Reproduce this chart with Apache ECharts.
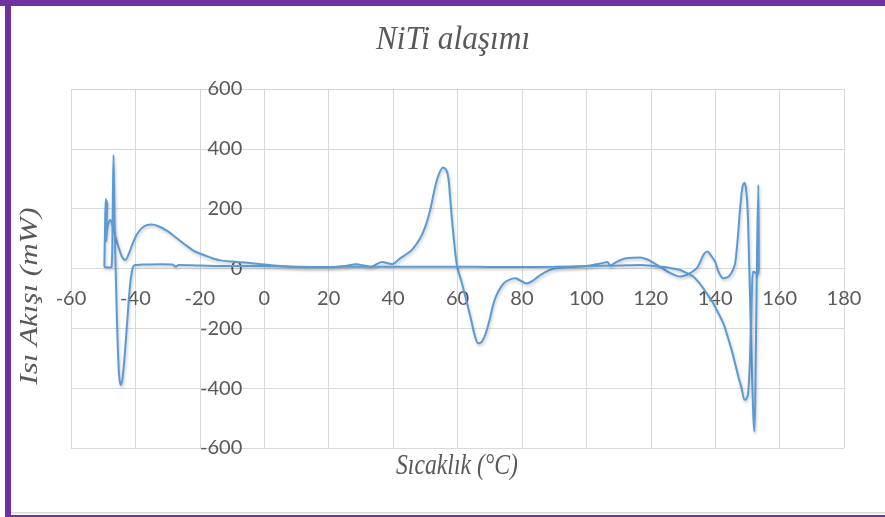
<!DOCTYPE html>
<html>
<head>
<meta charset="utf-8">
<script src="https://cdn.jsdelivr.net/npm/echarts@6/dist/echarts.min.js"></script>
<style>
  html, body { margin: 0; padding: 0; background: #ffffff; }
  #chart { width: 885px; height: 517px; }
</style>
</head>
<body>
<div id="chart"></div>
<script>
// Axis ticks
const xTicks = { min: -60, max: 180, step: 20 };
const yTicks = { min: -600, max: 600, step: 200 };

// Heating run: temperature (°C) and heat flow (mW)
const heatT = [-49.66, -49.45, -49.2, -48.95, -48.75, -48.9, -49.1, -48.7, -48.2, -47.8, -47.0, -46.2, -45.2, -44.2, -43.2, -42.2, -41.0, -39.5, -38.0, -36.5, -35.0, -33.0, -30.0, -27.0, -24.0, -22.0, -20.0, -17.0, -14.0, -10.0, -5.0, 0.0, 5.0, 10.0, 15.0, 20.0, 25.0, 28.5, 31.0, 33.0, 36.5, 39.6, 42.2, 45.8, 48.4, 50.0, 51.5, 53.0, 54.1, 55.5, 56.5, 57.2, 58.2, 59.8, 61.4, 64.0, 65.5, 66.5, 67.5, 68.6, 70.0, 71.2, 72.5, 74.3, 76.0, 77.9, 79.5, 81.5, 83.5, 85.7, 88.0, 90.0, 95.0, 100.0, 103.0, 105.0, 106.5, 107.5, 109.0, 111.0, 113.0, 116.7, 119.0, 121.0, 123.0, 125.5, 127.5, 129.1, 131.0, 133.0, 134.3, 135.5, 136.5, 137.6, 138.6, 140.0, 141.0, 142.5, 143.7, 144.6, 145.5, 146.2, 147.0, 147.7, 148.5, 149.1, 149.6, 150.1, 150.6, 151.2, 151.8, 152.2, 152.6, 153.0, 153.4, 153.55, 153.3];
const heatQ = [6, 120, 232, 225, 215, 160, 90, 135, 158, 162, 140, 105, 70, 40, 28, 45, 80, 115, 135, 145, 147, 142, 125, 100, 75, 60, 50, 38, 28, 23, 19, 13, 8, 5, 4, 4, 8, 14, 10, 6, 22, 15, 34, 62, 101, 140, 195, 270, 312, 338, 330, 300, 173, 12, -50, -161, -230, -250, -245, -222, -170, -116, -80, -50, -38, -33, -40, -50, -40, -22, -8, 0, 5, 8, 14, 18, 22, 10, 20, 30, 35, 37, 30, 18, 5, -12, -22, -27, -22, -10, 1, 25, 48, 57, 45, 22, -10, -33, -30, -22, -5, 17, 100, 195, 275, 287, 265, 190, 0, -250, -480, -545, -300, 50, 279, 0, -20];

// Cooling run: temperature (°C) and heat flow (mW)
const coolT = [153.3, 152.5, 151.8, 151.4, 150.8, 150.2, 149.6, 149.1, 148.2, 147.2, 146.2, 145.1, 143.8, 142.5, 141.0, 139.4, 137.8, 136.3, 134.8, 133.2, 131.2, 129.1, 126.0, 122.9, 119.0, 116.7, 110.0, 100.0, 90.0, 80.0, 70.0, 60.0, 50.0, 40.0, 30.0, 20.0, 10.0, 0.0, -10.0, -20.0, -26.5, -27.5, -28.5, -32.0, -38.0, -40.0, -40.6, -41.1, -41.7, -42.5, -43.4, -44.1, -44.6, -45.1, -45.6, -46.0, -46.4, -46.8, -47.1, -47.4, -48.2, -49.0, -49.66];
const coolQ = [-20, -15, -10, -83, -306, -420, -437, -439, -400, -362, -318, -272, -225, -183, -150, -116, -90, -66, -45, -27, -15, -5, 2, 6, 10, 12, 10, 8, 6, 5, 5, 6, 6, 6, 6, 5, 6, 8, 8, 10, 12, 6, 13, 14, 13, 12, 8, -10, -60, -170, -300, -375, -389, -350, -220, -60, 120, 379, 150, 5, 3, 4, 6];

const pairs = (xs, ys) => xs.map((x, i) => [x, ys[i]]);

const lineColor = '#5B9BD5';
const gridColor = '#D9D9D9';
const labelColor = '#595959';
const purple = '#7030A0';

// Plot rectangle
const W = 885, H = 517;
const gLeft = 71, gRight = 41, gTop = 89, gBottom = 69;
const plotW = W - gLeft - gRight;
const plotH = H - gTop - gBottom;
// Axes cross at (0, 0): shift them from the grid edges to the zero lines
const yAxisShift = -(0 - xTicks.min) / (xTicks.max - xTicks.min) * plotW;
const xAxisShift = -(0 - yTicks.min) / (yTicks.max - yTicks.min) * plotH;

const chart = echarts.init(document.getElementById('chart'), null, { renderer: 'canvas' });

const lineSeries = (name, data) => ({
  name,
  type: 'line',
  data,
  showSymbol: false,
  smooth: 0.3,
  lineStyle: {
    color: lineColor,
    width: 2,
    shadowColor: 'rgba(0,0,0,0.22)',
    shadowBlur: 3,
    shadowOffsetX: 1,
    shadowOffsetY: 2
  },
  itemStyle: { color: lineColor },
  z: 3
});

const serifItalic = (size) => ({
  fontFamily: 'Liberation Serif',
  fontStyle: 'italic',
  fontSize: size,
  fill: labelColor,
  align: 'center',
  verticalAlign: 'middle'
});

chart.setOption({
  animation: false,
  backgroundColor: '#ffffff',
  grid: { left: gLeft, right: gRight, top: gTop, bottom: gBottom, containLabel: false },
  xAxis: {
    type: 'value',
    min: xTicks.min,
    max: xTicks.max,
    interval: xTicks.step,
    offset: xAxisShift,
    axisLine: { show: true, onZero: false, lineStyle: { color: gridColor, width: 1 } },
    axisTick: { show: false },
    axisLabel: { margin: 20, fontFamily: 'Lato', fontSize: 20, color: labelColor },
    splitLine: { show: true, lineStyle: { color: gridColor, width: 1 } }
  },
  yAxis: {
    type: 'value',
    min: yTicks.min,
    max: yTicks.max,
    interval: yTicks.step,
    offset: yAxisShift,
    axisLine: { show: true, onZero: false, lineStyle: { color: gridColor, width: 1 } },
    axisTick: { show: false },
    axisLabel: { margin: 22, fontFamily: 'Lato', fontSize: 20, color: labelColor },
    splitLine: { show: true, lineStyle: { color: gridColor, width: 1 } }
  },
  series: [
    lineSeries('Isıtma', pairs(heatT, heatQ)),
    lineSeries('Soğutma', pairs(coolT, coolQ))
  ],
  graphic: [
    // frame
    { type: 'rect', shape: { x: 0, y: 0, width: W, height: 6 }, style: { fill: purple }, z: 10 },
    { type: 'rect', shape: { x: 5, y: 0, width: 6, height: H }, style: { fill: purple }, z: 10 },
    { type: 'rect', shape: { x: 11, y: 512, width: W - 11, height: 1.5 }, style: { fill: gridColor }, z: 10 },
    { type: 'rect', shape: { x: 5, y: 515, width: W - 5, height: 2 }, style: { fill: purple }, z: 10 },
    // chart title
    {
      type: 'text', x: 453, y: 40, scaleX: 0.95,
      style: Object.assign({ text: 'NiTi alaşımı' }, serifItalic(33)),
      z: 10
    },
    // axis titles
    {
      type: 'text', x: 457, y: 466, scaleX: 0.79,
      style: Object.assign({ text: 'Sıcaklık (°C)' }, serifItalic(30)),
      z: 10
    },
    {
      type: 'text', x: 31, y: 296, rotation: Math.PI / 2, scaleY: 0.79,
      style: Object.assign({ text: 'Isı Akışı (mW)' }, serifItalic(31)),
      z: 10
    }
  ]
});
</script>
</body>
</html>
